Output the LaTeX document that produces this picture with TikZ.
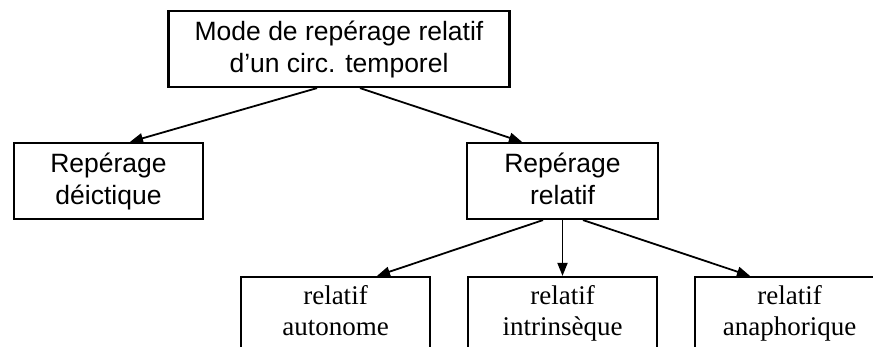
\documentclass[tikz,border=0pt]{standalone}
\usepackage{fontspec}
\setmainfont{Liberation Sans}
\newfontfamily\tnr{Liberation Serif}
\usetikzlibrary{arrows.meta}
\newcommand{\topstrut}{\rule{0pt}{25pt}}
\tikzset{
  box/.style={draw, line width=2.2pt, inner sep=0pt, align=center,
    font=\fontsize{26.5}{32}\selectfont},
  sbox/.style={box, font=\tnr\fontsize{27}{31}\selectfont},
  arr/.style={line width=1.8pt, -{Triangle[length=13pt,width=10pt]}}
}
\begin{document}
\begin{tikzpicture}[x=1pt,y=-1pt]
\clip (0,0) rectangle (873,347);
\fill[white] (0,0) rectangle (873,347);
\node[box, minimum width=341pt, minimum height=76pt] (top) at (339,49) {\topstrut Mode de repérage relatif\\d’un circ. temporel\strut};
\node[box, minimum width=189pt, minimum height=76pt] (dei) at (108.5,181) {\topstrut Repérage\\déictique\strut};
\node[box, minimum width=191pt, minimum height=76pt] (rel) at (562.5,181) {\topstrut Repérage\\relatif\strut};
\node[sbox, minimum width=189pt, minimum height=76pt] (aut) at (335.5,315) {relatif\\autonome\strut};
\node[sbox, minimum width=189pt, minimum height=76pt] (intr) at (562.5,315) {relatif\\intrinsèque\strut};
\node[sbox, minimum width=189pt, minimum height=76pt] (ana) at (789.5,315) {relatif\\anaphorique\strut};
\draw[arr] ([xshift=-22pt]top.south) -- ([xshift=21.5pt]dei.north);
\draw[arr] ([xshift=21pt]top.south) -- ([xshift=-40.5pt]rel.north);
\draw[arr] ([xshift=-19.5pt]rel.south) -- ([xshift=41.5pt]aut.north);
\draw[arr] (rel.south) -- (intr.north);
\draw[arr] ([xshift=20.5pt]rel.south) -- ([xshift=-39.5pt]ana.north);
\end{tikzpicture}
\end{document}
